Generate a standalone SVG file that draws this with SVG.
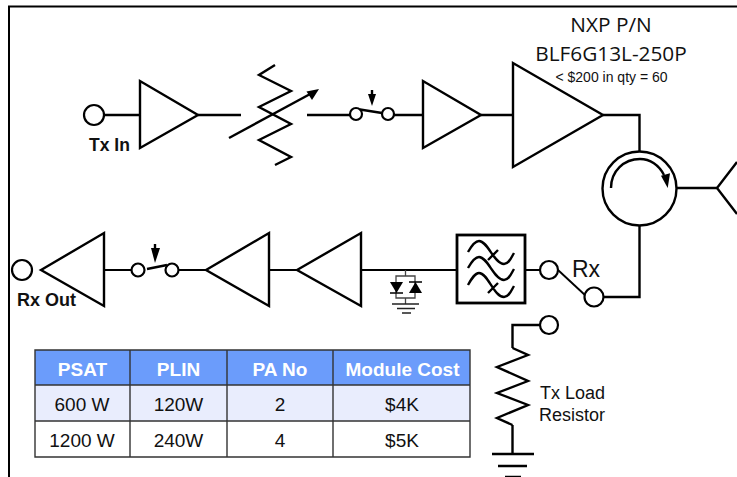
<svg xmlns="http://www.w3.org/2000/svg" width="737" height="477" viewBox="0 0 737 477">
<style>
.l{fill:none;stroke:#000;stroke-width:2.400;stroke-linejoin:miter}
.m{fill:none;stroke:#000;stroke-width:1.900}
.t{fill:#fff;stroke:#000;stroke-width:2.400;stroke-linejoin:miter}
.c{fill:#fff;stroke:#000;stroke-width:2.200}
.a{font-family:"Liberation Sans",Arial,sans-serif;fill:#111}
.d{font-family:"Open Sans",sans-serif;fill:#111;font-size:20.800px;text-anchor:middle}
.th{font-family:"Liberation Sans",Arial,sans-serif;font-weight:700;font-size:19px;fill:#fff;text-anchor:middle}
.td{font-family:"Liberation Sans",Arial,sans-serif;font-size:19px;fill:#111;text-anchor:middle}
</style>
<rect width="737" height="477" fill="#fff"/>
<path d="M9 477V6.500H737" fill="none" stroke="#000" stroke-width="2"/>
<g id="connectors">
<path class="l" d="M104 115H140M198 115H241M307 115H351M394 115H423M481 115H513M603 115H639.500V153M677 188H717M639.500 226V297H604M540 325H512.500V348M512.500 425V454"/>
<path class="m" d="M104 270H132M179 270H206M269 270H297M361 270H457M525 270H540"/>
<path class="m" d="M558 270L586 296"/>
</g>
<g id="tx-in"><circle class="c" cx="94" cy="115" r="10"/><text class="a" x="89" y="151" font-size="17.500" font-weight="700">Tx In</text></g>
<g id="amp-1"><path class="t" d="M140 81V148L198 115Z"/></g>
<g id="attenuator"><path class="l" d="M275 65L259 75L291 91L259 107L291 124L259 140L291 157L275 165"/><path class="l" d="M229 138L312 93"/><path d="M319 89L306.500 91.500L312 100Z" fill="#000"/></g>
<g id="switch-tx"><circle class="c" cx="356" cy="114" r="6"/><circle class="c" cx="388" cy="114" r="6"/><path class="l" d="M360 109.500L382 113"/><path class="l" d="M372 90V98"/><path d="M368 94H376L372 106Z" fill="#000"/></g>
<g id="amp-2"><path class="t" d="M423 81V148L481 115Z"/></g>
<g id="pa"><path class="t" d="M513 63V167L603 115Z"/><text class="d" x="611" y="32">NXP P/N</text><text class="d" x="611" y="61">BLF6G13L-250P</text><text class="a" x="611.500" y="82" font-size="14" text-anchor="middle">&lt; $200 in qty = 60</text></g>
<g id="circulator"><circle class="t" cx="639.500" cy="188.500" r="37"/><path class="l" d="M611 188C611 171 624 159 640 159C650 159 659 165 664 175"/><path d="M667.700 188L661 175.700L670 173.300Z" fill="#000"/></g>
<g id="antenna"><path class="l" d="M737 162L717 188L737 214"/></g>
<g id="rx-out"><circle class="c" cx="22" cy="270" r="10"/><text class="a" x="17" y="306" font-size="18" font-weight="700">Rx Out</text></g>
<g id="amp-3"><path class="t" d="M41 270L104 233V306Z"/></g>
<g id="switch-rx"><circle class="c" cx="138" cy="270" r="6.500"/><circle class="c" cx="172" cy="270" r="6.500"/><path class="l" d="M147 269L167 265"/><path class="l" d="M155 244V252"/><path d="M151 248H160L155 263Z" fill="#000"/></g>
<g id="amp-4"><path class="t" d="M206 270L269 233V306Z"/></g>
<g id="amp-5"><path class="t" d="M297 270L361 233V306Z"/></g>
<g id="limiter"><path d="M405.500 270V276M396 276H415V298H396ZM405.500 298V304" fill="none" stroke="#444" stroke-width="1.300"/><path d="M392 304H419M397 308.500H415M402 313H411" fill="none" stroke="#222" stroke-width="1.400"/><path d="M390 282H403L396.500 293Z" fill="#000"/><path d="M409 293H422L415.500 282Z" fill="#000"/><path d="M390 293H403M409 282H422" stroke="#000" stroke-width="1.300"/></g>
<g id="filter"><rect x="457" y="235" width="68" height="68" fill="#fff" stroke="#000" stroke-width="2.800"/>
<path class="l" d="M468 252C472 245 475 241 479 241C488 241 494 264 504 264C509 264 511 258 514 253M468 268C472 261 475 257 479 257C488 257 494 280 504 280C509 280 511 274 514 269M468 285C472 278 475 273 479 273C488 273 494 297 504 297C509 297 511 291 514 286M488 260L498 250M488 293L498 283"/></g>
<g id="rx-switch"><circle class="c" cx="549" cy="270" r="9"/><circle class="c" cx="594" cy="297" r="9.500"/><text class="a" x="572" y="276.500" font-size="23">Rx</text></g>
<g id="tx-load"><circle class="c" cx="549" cy="325" r="9"/><path class="l" d="M512.500 348L528 355L497 367L528 381L497 393L528 405L497 418L512.500 425"/><path class="l" d="M492 454H534M498 466H527M505 477H521"/><text class="a" x="540" y="399" font-size="18">Tx Load</text><text class="a" x="539" y="421" font-size="18">Resistor</text></g>
<g id="table">
<rect x="35" y="350" width="435" height="35" fill="#6b9cfb"/><rect x="35" y="385" width="435" height="36" fill="#e9edfd"/><rect x="35" y="421" width="435" height="36" fill="#fff"/>
<path d="M35 350H470V457H35ZM35 385H470M35 421H470M130 350V457M227 350V457M333 350V457" fill="none" stroke="#333" stroke-width="1.400"/>
<text class="th" x="82.500" y="376">PSAT</text><text class="th" x="178.500" y="376">PLIN</text><text class="th" x="280" y="376">PA No</text><text class="th" x="402.500" y="376">Module Cost</text>
<text class="td" x="82" y="411">600 W</text><text class="td" x="178.500" y="411">120W</text><text class="td" x="280" y="411">2</text><text class="td" x="402" y="411">$4K</text>
<text class="td" x="82" y="447">1200 W</text><text class="td" x="178.500" y="447">240W</text><text class="td" x="280" y="447">4</text><text class="td" x="402" y="447">$5K</text>
</g>
</svg>
